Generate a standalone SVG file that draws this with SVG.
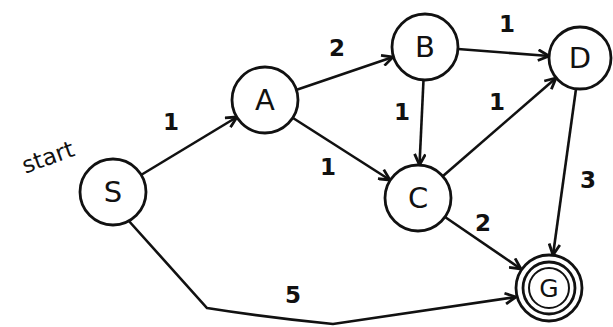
<svg xmlns="http://www.w3.org/2000/svg" width="613" height="327" viewBox="0 0 613 327">
<style>
.node{fill:#fff;stroke:#111;stroke-width:2.8}
.edge{fill:none;stroke:#111;stroke-width:2.6;marker-end:url(#arr)}
.lbl{font-family:"DejaVu Sans",sans-serif;font-size:29px;fill:#111;text-anchor:middle;dominant-baseline:central}
.w{font-family:"DejaVu Sans",sans-serif;font-size:23px;fill:#111;text-anchor:middle;dominant-baseline:central;font-weight:bold}
</style>
<defs>
<marker id="arr" viewBox="0 0 12 12" refX="11" refY="6" markerWidth="13" markerHeight="13" markerUnits="userSpaceOnUse" orient="auto">
<path d="M1,1 L11,6 L1,11" fill="none" stroke="#111" stroke-width="2.6"/>
</marker>
</defs>
<rect width="613" height="327" fill="#fff"/>
<g id="connectors">
<line class="edge" x1="141" y1="175" x2="237" y2="117"/>
<line class="edge" x1="296" y1="90" x2="393" y2="57"/>
<line class="edge" x1="293" y1="118" x2="390" y2="180"/>
<line class="edge" x1="423.5" y1="80" x2="419.5" y2="165"/>
<line class="edge" x1="458" y1="49" x2="549" y2="56"/>
<line class="edge" x1="443" y1="176" x2="556" y2="78"/>
<line class="edge" x1="576" y1="89" x2="553" y2="255"/>
<line class="edge" x1="445" y1="217" x2="521" y2="269"/>
<path class="edge" d="M128,220 L207,308 Q270,318 333,324 L516,297"/>
<text class="w" x="171" y="122">1</text>
<text class="w" x="337" y="48">2</text>
<text class="w" x="328" y="167">1</text>
<text class="w" x="402" y="112">1</text>
<text class="w" x="507" y="24">1</text>
<text class="w" x="497" y="102">1</text>
<text class="w" x="588" y="180">3</text>
<text class="w" x="483" y="223">2</text>
<text class="w" x="293" y="295">5</text>
</g>
<text x="48" y="157" transform="rotate(-20 48 157)" style="font-family:'DejaVu Sans',sans-serif;font-size:23px;fill:#111;text-anchor:middle;dominant-baseline:central">start</text>
<g id="S"><circle class="node" cx="113" cy="192" r="33"/><text class="lbl" x="113" y="192">S</text></g>
<g id="A"><circle class="node" cx="265" cy="100" r="33"/><text class="lbl" x="265" y="100">A</text></g>
<g id="B"><circle class="node" cx="425" cy="47" r="33"/><text class="lbl" x="425" y="47">B</text></g>
<g id="C"><circle class="node" cx="418" cy="198" r="33"/><text class="lbl" x="418" y="198">C</text></g>
<g id="D"><circle class="node" cx="580" cy="58" r="31"/><text class="lbl" x="580" y="58">D</text></g>
<g id="G"><circle class="node" cx="549" cy="288" r="33"/><circle class="node" cx="549" cy="288" r="26"/><circle class="node" cx="549" cy="288" r="20" style="stroke-width:2"/><text class="lbl" x="549" y="288" style="font-size:25px">G</text></g>
</svg>
